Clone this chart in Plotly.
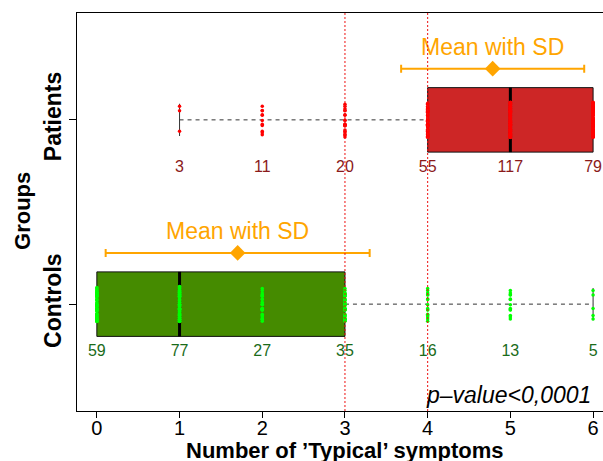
import numpy as np
import plotly.graph_objects as go

# ---------------- data ----------------
symptom_levels = [0, 1, 2, 3, 4, 5, 6]
group_names = ["Controls", "Patients"]
group_positions = [1, 2]
controls_counts = [59, 77, 27, 35, 16, 13, 5]
patients_counts = [0, 3, 11, 20, 55, 117, 79]
x_tick_values = [0, 1, 2, 3, 4, 5, 6]
cutoff_lines = [3, 4]
mean_label = "Mean with SD"
p_value_label = "p\u2013value&lt;0,0001"
x_title = "Number of \u2019Typical\u2019 symptoms"
y_title = "Groups"

# ---------------- styles ----------------
FONT = "Liberation Sans, Arial, Helvetica, sans-serif"
box_half = 0.175
staple_half = 0.0875
mean_offset = 0.278
mean_text_offset = 0.385
count_offset = -0.26
orange = "#FFA500"

styles = {
    "Controls": dict(fill="#458B00", pts="#00FF00", lab="#1a6b1a"),
    "Patients": dict(fill="#CD2626", pts="#FF0000", lab="#8B1A1A"),
}
counts_by_group = {"Controls": controls_counts, "Patients": patients_counts}

fig = go.Figure()

for name, pos in zip(group_names, group_positions):
    counts = counts_by_group[name]
    st = styles[name]
    data = np.repeat(symptom_levels, counts)
    q1, med, q3 = np.percentile(data, [25, 50, 75])
    iqr = q3 - q1
    lo = data[data >= q1 - 1.5 * iqr].min()
    hi = data[data <= q3 + 1.5 * iqr].max()
    mean = data.mean()
    sd = data.std(ddof=1)

    # whiskers (dashed)
    for a, b in [(lo, q1), (q3, hi)]:
        if b > a:
            fig.add_trace(go.Scatter(x=[a, b], y=[pos, pos], mode="lines",
                                     line=dict(color="#333333", width=1, dash="4px,4px"),
                                     hoverinfo="skip", showlegend=False))
    # staples
    for e, q in [(lo, q1), (hi, q3)]:
        if e != q:
            fig.add_trace(go.Scatter(x=[e, e], y=[pos - staple_half, pos + staple_half],
                                     mode="lines", line=dict(color="#333333", width=1),
                                     hoverinfo="skip", showlegend=False))
    # box
    fig.add_trace(go.Scatter(x=[q1, q3, q3, q1, q1],
                             y=[pos - box_half, pos - box_half, pos + box_half, pos + box_half, pos - box_half],
                             mode="lines", fill="toself", fillcolor=st["fill"],
                             line=dict(color="#111111", width=1),
                             hoverinfo="skip", showlegend=False))
    # median
    fig.add_trace(go.Scatter(x=[med, med], y=[pos - box_half, pos + box_half], mode="lines",
                             line=dict(color="black", width=3),
                             hoverinfo="skip", showlegend=False))
    # counts
    lv = [l for l, c in zip(symptom_levels, counts) if c > 0]
    ct = [str(c) for c in counts if c > 0]
    fig.add_trace(go.Scatter(x=lv, y=[pos + count_offset] * len(lv), mode="text", text=ct,
                             textposition="middle center",
                             textfont=dict(family=FONT, size=16, color=st["lab"]),
                             hoverinfo="skip", showlegend=False))
    # mean with SD
    fig.add_trace(go.Scatter(x=[mean], y=[pos + mean_offset], mode="markers",
                             marker=dict(symbol="diamond", size=12, color=orange),
                             error_x=dict(type="data", array=[sd], color=orange, thickness=2, width=4),
                             hoverinfo="skip", showlegend=False))
    fig.add_trace(go.Scatter(x=[mean], y=[pos + mean_text_offset], mode="text", text=[mean_label],
                             textposition="middle center",
                             textfont=dict(family=FONT, size=23, color=orange),
                             hoverinfo="skip", showlegend=False))
    # jittered points (overlay axis, on top); one trace per level => uniform jitter
    for lvl, c in zip(symptom_levels, counts):
        if c == 0:
            continue
        vals = np.repeat([lvl], c)
        fig.add_trace(go.Box(x=vals, y=[pos] * c, orientation="h", yaxis="y2",
                             boxpoints="all", jitter=0.48, pointpos=0, width=0.4,
                             fillcolor="rgba(0,0,0,0)", line=dict(color="rgba(0,0,0,0)", width=0),
                             marker=dict(color=st["pts"], size=3.5, line=dict(width=0)),
                             hoverinfo="skip", showlegend=False))

for c in cutoff_lines:
    fig.add_shape(type="line", xref="x", yref="paper", x0=c, x1=c, y0=0, y1=1,
                  line=dict(color="#EE1111", width=1, dash="2px,2px"))

yr = [0.42, 2.58]
fig.update_layout(
    width=603, height=461,
    margin=dict(l=77, r=0, t=13, b=50),
    paper_bgcolor="white", plot_bgcolor="white",
    font=dict(family=FONT, color="black"),
    showlegend=False,
    boxmode="overlay",
    xaxis=dict(range=[-0.24, 6.12], tickvals=x_tick_values, ticks="outside", ticklen=6,
               tickcolor="black", showline=True, linecolor="black", linewidth=1, mirror=True,
               showgrid=False, zeroline=False, ticklabelstandoff=-7,
               tickfont=dict(size=20, family=FONT)),
    yaxis=dict(range=yr, tickvals=group_positions,
               ticktext=["<b>%s</b>" % g for g in group_names], tickangle=-90,
               ticks="outside", ticklen=7, tickcolor="black", showline=True, linecolor="black",
               linewidth=1, showgrid=False, zeroline=False, ticklabelstandoff=-1,
               tickfont=dict(size=23, family=FONT)),
    yaxis2=dict(range=yr, overlaying="y", visible=False, showgrid=False, zeroline=False),
    annotations=[
        dict(text="<b>%s</b>" % y_title, xref="paper", yref="paper", x=-0.1046, y=0.5025,
             textangle=-90, showarrow=False, xanchor="center", yanchor="middle",
             font=dict(size=22, family=FONT)),
        dict(text="<b>%s</b>" % x_title, xref="paper", yref="paper", x=0.5095, y=-0.1,
             showarrow=False, xanchor="center", yanchor="middle",
             font=dict(size=22, family=FONT)),
        dict(text="<i>%s</i>" % p_value_label, xref="x", yref="paper", x=6, y=0.04,
             showarrow=False, xanchor="right", yanchor="middle",
             font=dict(size=23, family=FONT)),
    ],
)

fig.write_html("out.html")
